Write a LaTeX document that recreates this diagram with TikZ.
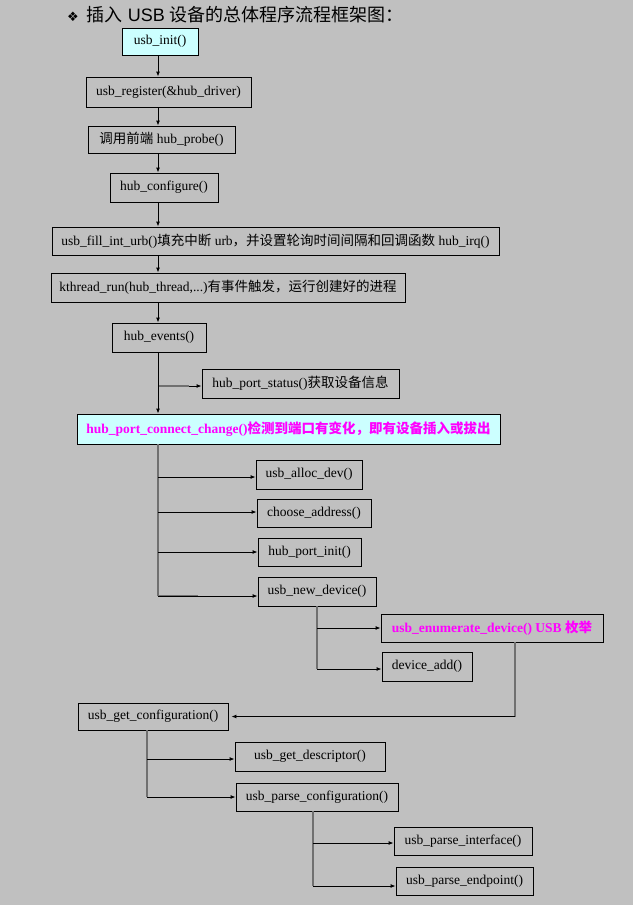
\documentclass[tikz,border=0pt]{standalone}
\usepackage{fontspec}
\setmainfont{Liberation Serif}
\newfontfamily\cjk{Noto Sans CJK SC}
\newfontfamily\titlesans{Liberation Sans}
\newfontfamily\dejavu{DejaVu Sans}
\usetikzlibrary{arrows.meta}
\definecolor{bg}{HTML}{C0C0C0}
\definecolor{lcyan}{HTML}{CCFFFF}
\definecolor{mag}{HTML}{FF00FF}
\definecolor{trunkgray}{HTML}{707070}
\begin{document}
\begin{tikzpicture}[x=1pt,y=-1pt,
  box/.style={draw=black, line width=0.9pt, inner sep=0pt, font=\fontsize{13.5}{15}\selectfont, text=black},
  hibox/.style={box, fill=lcyan},
  magtext/.style={text=mag, font=\fontsize{13.5}{15}\selectfont\bfseries},
  arr/.style={draw=black, line width=0.9pt, -{Latex[length=5pt,width=4pt]}},
  trunk/.style={draw=trunkgray, line width=1.6pt},
]
\useasboundingbox (0,0) rectangle (633,905);
\fill[bg] (0,0) rectangle (633,905);

\node[anchor=west, inner sep=0pt, font=\fontsize{18}{20}\selectfont] (title) at (67,15)
  {{\dejavu\fontsize{13}{15}\selectfont ❖}\hspace{8pt}{\cjk 插入}{\titlesans\ USB }{\cjk 设备的总体程序流程框架图：}};

\coordinate (tx) at (158,0);
\coordinate (ex) at (515,0);
\coordinate (gx) at (147,0);
\coordinate (px) at (313,0);

\node[hibox, minimum width=76pt, minimum height=27pt] (init) at (160,41.5) {usb\_init()};
\node[box, minimum width=165pt, minimum height=30pt] (reg) at (168.5,92) {usb\_register(\&hub\_driver)};
\node[box, minimum width=147pt, minimum height=27pt] (probe) at (161.5,139.5) {{\cjk 调用前端} hub\_probe()};
\node[box, minimum width=108pt, minimum height=29pt] (conf) at (164,187.5) {hub\_configure()};
\node[box, minimum width=447pt, minimum height=28pt] (fill) at (275.5,241) {usb\_fill\_int\_urb(){\cjk 填充中断} urb{\cjk ，并设置轮询时间间隔和回调函数} hub\_irq()};
\node[box, minimum width=354pt, minimum height=29pt] (kth) at (228,287.5) {kthread\_run(hub\_thread,...){\cjk 有事件触发，运行创建好的进程}};
\node[box, minimum width=94pt, minimum height=29pt] (events) at (159,337.5) {hub\_events()};
\node[box, minimum width=197pt, minimum height=29pt] (status) at (300.5,383.5) {hub\_port\_status(){\cjk 获取设备信息}};
\node[hibox, magtext, minimum width=423pt, minimum height=30pt] (cc) at (288.5,429) {hub\_port\_connect\_change(){\cjk\bfseries 检测到端口有变化，即有设备插入或拔出}};
\node[box, minimum width=106pt, minimum height=29pt] (alloc) at (309,474.5) {usb\_alloc\_dev()};
\node[box, minimum width=114pt, minimum height=28pt] (choose) at (314,513) {choose\_address()};
\node[box, minimum width=103pt, minimum height=28pt] (pinit) at (309.5,552) {hub\_port\_init()};
\node[box, minimum width=118pt, minimum height=29pt] (newdev) at (317,591.5) {usb\_new\_device()};
\node[box, magtext, minimum width=222pt, minimum height=28pt] (enum) at (492,628) {usb\_enumerate\_device() USB {\cjk\bfseries 枚举}};
\node[box, minimum width=90pt, minimum height=29pt] (devadd) at (427,666.5) {device\_add()};
\node[box, minimum width=150pt, minimum height=27pt] (getconf) at (153,716.5) {usb\_get\_configuration()};
\node[box, minimum width=150pt, minimum height=29pt] (getdesc) at (310,756.5) {usb\_get\_descriptor()};
\node[box, minimum width=162pt, minimum height=28pt] (parseconf) at (317,797) {usb\_parse\_configuration()};
\node[box, minimum width=138pt, minimum height=28pt] (pif) at (463,841) {usb\_parse\_interface()};
\node[box, minimum width=137pt, minimum height=28pt] (pep) at (464.5,881) {usb\_parse\_endpoint()};

% main chain
\draw[arr] (init.south -| tx) -- (reg.north -| tx);
\draw[arr] (reg.south -| tx) -- (probe.north -| tx);
\draw[arr] (probe.south -| tx) -- (conf.north -| tx);
\draw[arr] (conf.south -| tx) -- (fill.north -| tx);
\draw[arr] (fill.south -| tx) -- (kth.north -| tx);
\draw[arr] (kth.south -| tx) -- (events.north -| tx);
\draw[arr] (events.south -| tx) -- (cc.north -| tx);
\draw[draw=trunkgray, line width=1.2pt] ([yshift=-2.5pt]tx |- status.west) ++(1,0) -- ++(30,0) coordinate (sb);
\draw[arr] (sb) -- (status.west |- sb);

% connect change branches
\draw[trunk] (cc.south -| tx) -- ([yshift=-4.5pt]tx |- newdev.west);
\draw[arr] ([yshift=-2.5pt]tx |- alloc.west) -- ([yshift=-2.5pt]alloc.west);
\draw[arr] ([yshift=1pt]tx |- choose.west) -- ([yshift=1pt]choose.west);
\draw[arr] (tx |- pinit.west) -- (pinit.west);
\draw[trunk] ([yshift=-4.5pt]tx |- newdev.west) -- ++(40,0);
\draw[arr] ([yshift=-4.5pt]tx |- newdev.west) -- ([yshift=-4.5pt]newdev.west);

% new device branches
\draw[trunk] (newdev.south) -- ([yshift=-2.5pt]newdev.south |- devadd.west);
\draw[arr] (newdev.south |- enum.west) -- (enum.west);
\draw[arr] ([yshift=-2.5pt]newdev.south |- devadd.west) -- ([yshift=-2.5pt]devadd.west);

% enumerate -> get configuration
\draw[trunk] (enum.south -| ex) -- (ex |- getconf.east);
\draw[arr, shorten >=3pt] (ex |- getconf.east) -- (getconf.east);

% get configuration branches
\draw[draw=trunkgray, line width=1.2pt] (getconf.south -| gx) -- (gx |- parseconf.west);
\draw[arr] ([yshift=-2.5pt]gx |- getdesc.west) -- ([yshift=-2.5pt]getdesc.west);
\draw[arr] (gx |- parseconf.west) -- (parseconf.west);

% parse configuration branches
\draw[trunk] (parseconf.south -| px) -- ([yshift=-5pt]px |- pep.west);
\draw[arr] ([yshift=-2pt]px |- pif.west) -- ([yshift=-2pt]pif.west);
\draw[arr] ([yshift=-5pt]px |- pep.west) -- ([yshift=-5pt]pep.west);
\end{tikzpicture}
\end{document}
